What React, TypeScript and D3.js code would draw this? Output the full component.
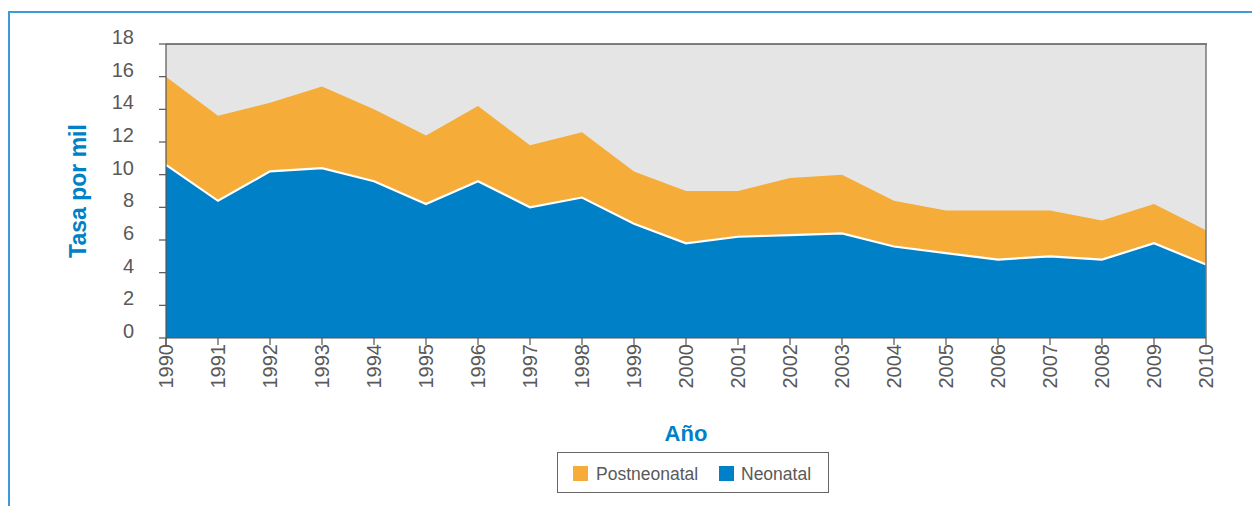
import React, { useEffect } from "react";
import * as d3 from "d3";

// años y tasas (por mil nacidos vivos)
const years = [1990, 1991, 1992, 1993, 1994, 1995, 1996, 1997, 1998, 1999, 2000, 2001, 2002, 2003, 2004, 2005, 2006, 2007, 2008, 2009, 2010];
const neonatal = [10.6, 8.4, 10.2, 10.4, 9.6, 8.2, 9.6, 8.0, 8.6, 7.0, 5.8, 6.2, 6.3, 6.4, 5.6, 5.2, 4.8, 5.0, 4.8, 5.8, 4.5];
const postneonatal = [5.4, 5.2, 4.2, 5.0, 4.4, 4.2, 4.6, 3.8, 4.0, 3.2, 3.2, 2.8, 3.5, 3.6, 2.8, 2.6, 3.0, 2.8, 2.4, 2.4, 2.1];
const yTicks = [0, 2, 4, 6, 8, 10, 12, 14, 16, 18];
const seriesNames = ["Postneonatal", "Neonatal"];

const BLUE = "#0080c6";
const ORANGE = "#f6ac39";
const FONT = "'Liberation Sans', Arial, sans-serif";

const W = 1252;
const H = 506;
const margin = { left: 166, right: 46, top: 44, bottom: 168 };

export default function App() {
  useEffect(() => {
    document.body.style.margin = "0";
  }, []);

  const x = d3.scaleLinear().domain([1990, 2010]).range([margin.left, W - margin.right]);
  const y = d3.scaleLinear().domain([0, 18]).range([H - margin.bottom, margin.top]);

  const rows = years.map((yr, i) => ({ year: yr, neonatal: neonatal[i], postneonatal: postneonatal[i] }));
  const stacked = d3.stack<any>().keys(["neonatal", "postneonatal"])(rows);

  const area = d3
    .area<any>()
    .x((d) => x(d.data.year))
    .y0((d) => y(d[0]))
    .y1((d) => y(d[1]));

  const line = d3
    .line<any>()
    .x((d) => x(d.data.year))
    .y((d) => y(d[1]));

  const x0 = x(1990);
  const x1 = x(2010);
  const yb = y(0);
  const yt = y(18);

  return (
    <svg width={W} height={H} style={{ display: "block" }} fontFamily={FONT}>
      {/* marco exterior */}
      <line x1={9} x2={W} y1={12} y2={12} stroke="#3f9bd7" strokeWidth={2} />
      <line x1={9} x2={9} y1={11} y2={H} stroke="#3f9bd7" strokeWidth={2} />

      {/* fondo del área de trazado */}
      <rect x={x0} y={yt} width={x1 - x0} height={yb - yt} fill="#e5e5e5" />

      <path d={area(stacked[1]) || ""} fill={ORANGE} />
      <path d={area(stacked[0]) || ""} fill={BLUE} />
      <path d={line(stacked[0]) || ""} fill="none" stroke="#fff" strokeWidth={2.2} />

      {/* bordes */}
      <line x1={x0} x2={x1 + 1} y1={yt} y2={yt} stroke="#555" strokeWidth={1.5} />
      <line x1={x1} x2={x1} y1={yt} y2={yb} stroke="#777" strokeWidth={1.5} />
      <line x1={x0} x2={x0} y1={yt} y2={yb + 7} stroke="#555" strokeWidth={1.2} />
      <line x1={x0} x2={x1} y1={yb} y2={yb} stroke="#555" strokeWidth={1.2} />

      {/* eje y */}
      {yTicks.map((t) => (
        <g key={t}>
          <line x1={x0 - 7} x2={x0} y1={y(t)} y2={y(t)} stroke="#555" strokeWidth={1.2} />
          <text x={134} y={y(t) - 7} dy="0.35em" textAnchor="end" fontSize={20} fill="#595959">
            {t}
          </text>
        </g>
      ))}

      {/* eje x */}
      {years.map((yr) => (
        <g key={yr}>
          <line x1={x(yr)} x2={x(yr)} y1={yb} y2={yb + 7} stroke="#555" strokeWidth={1.2} />
          <text
            transform={`translate(${x(yr)},${yb + 6}) rotate(-90)`}
            dy="0.35em"
            textAnchor="end"
            fontSize={20}
            fill="#595959"
          >
            {yr}
          </text>
        </g>
      ))}

      <text
        transform={`translate(78,${(yt + yb) / 2}) rotate(-90)`}
        dy="0.35em"
        textAnchor="middle"
        fontSize={23}
        fontWeight="bold"
        fill={BLUE}
      >
        Tasa por mil
      </text>
      <text x={(x0 + x1) / 2} y={433} dy="0.35em" textAnchor="middle" fontSize={22} fontWeight="bold" fill={BLUE}>
        Año
      </text>

      {/* leyenda */}
      <rect x={557.5} y={452.5} width={271} height={40} fill="#fff" stroke="#666" strokeWidth={1} />
      <rect x={573} y={466} width={15} height={15} fill={ORANGE} />
      <text x={596} y={473.5} dy="0.35em" fontSize={17.5} fill="#595959">
        {seriesNames[0]}
      </text>
      <rect x={719} y={466} width={15} height={15} fill={BLUE} />
      <text x={741} y={473.5} dy="0.35em" fontSize={17.5} fill="#595959">
        {seriesNames[1]}
      </text>
    </svg>
  );
}
